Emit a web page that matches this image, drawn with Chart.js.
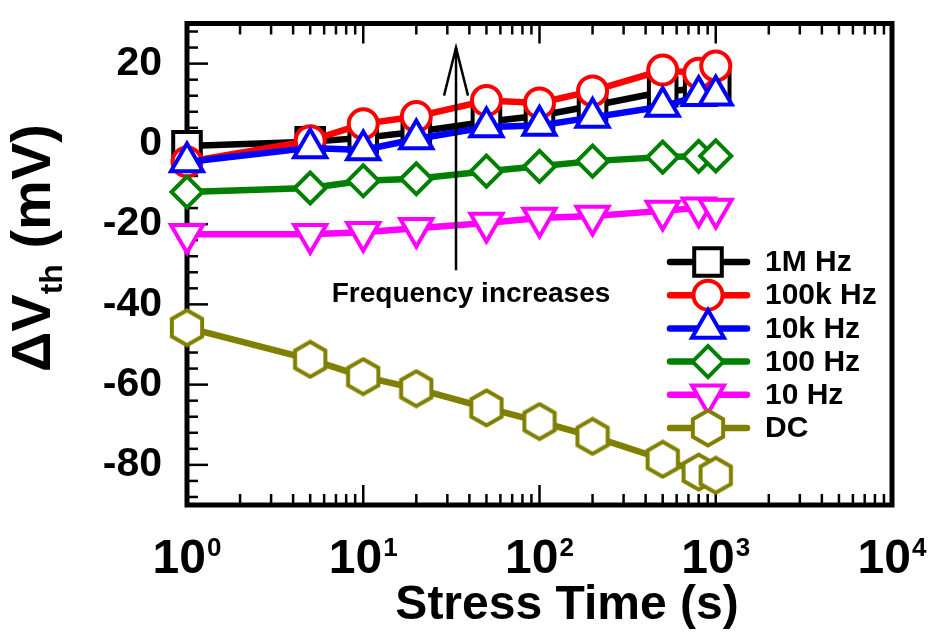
<!DOCTYPE html>
<html><head><meta charset="utf-8">
<script src="https://cdn.jsdelivr.net/npm/chart.js@4.4.1/dist/chart.umd.min.js"></script>
<style>html,body{margin:0;padding:0;background:#fff;}canvas{display:block;}</style>
</head><body>
<canvas id="c" width="930" height="634"></canvas>
<script>
// ---- data ----
const stressTimes = [1, 5, 10, 20, 50, 100, 200, 500, 800, 1000];
const seriesLabels = ['1M Hz', '100k Hz', '10k Hz', '100 Hz', '10 Hz', 'DC'];
const dv1MHz   = [-0.5, 0.5, 1.5, 3.0, 5.5, 7.0, 9.5, 13.0, 13.8, 14.5];
const dv100kHz = [-4.5, 0.8, 5.0, 6.8, 10.8, 10.2, 13.2, 18.4, 17.6, 19.4];
const dv10kHz  = [-4.5, -1.0, -1.5, 1.2, 4.2, 4.6, 6.6, 9.3, 12.0, 12.1];
const dv100Hz  = [-12.0, -11.0, -9.2, -8.7, -6.8, -5.6, -4.3, -3.3, -3.1, -3.0];
const dv10Hz   = [-22.5, -22.5, -22.0, -21.0, -19.7, -18.5, -18.0, -16.7, -15.9, -16.2];
const dvDC     = [-45.8, -53.7, -58.0, -61.0, -65.8, -69.2, -72.9, -78.6, -81.8, -82.6];
const yTickLabels = [20, 0, -20, -40, -60, -80];
const xTickExponents = [0, 1, 2, 3, 4];
const xAxisTitle = 'Stress Time (s)';
const annotationText = 'Frequency increases';
const arrowTime = 33.6, arrowFrom = -31.5, arrowTo = 24;

// ---- styling ----
const FONT = '"Liberation Sans", Arial, Helvetica, sans-serif';
const MARKER_BW = 4;
function hexagonImage(color) {
  const r = 17.5, lw = MARKER_BW;
  const c = document.createElement('canvas');
  const w = 36, h = 40;
  c.width = w; c.height = h;
  const g = c.getContext('2d');
  g.translate(w / 2, h / 2);
  g.beginPath();
  for (let k = 0; k < 6; k++) {
    const a = -Math.PI / 2 + k * Math.PI / 3;
    const px = r * Math.cos(a), py = r * Math.sin(a);
    if (k) g.lineTo(px, py); else g.moveTo(px, py);
  }
  g.closePath();
  g.fillStyle = '#fff'; g.fill();
  g.lineWidth = lw; g.strokeStyle = color; g.stroke();
  return c;
}
const styles = [
  { color: '#000000', pointStyle: 'rect', radius: 19.5, rotation: 0, order: 6 },
  { color: '#ff0000', pointStyle: 'circle', radius: 14.5, rotation: 0, order: 5 },
  { color: '#0000ff', pointStyle: 'triangle', radius: 18.5, rotation: 0, order: 4 },
  { color: '#008000', pointStyle: 'rectRot', radius: 15.5, rotation: 0, order: 3 },
  { color: '#ff00ff', pointStyle: 'triangle', radius: 18.5, rotation: 180, order: 2 },
  { color: '#808000', pointStyle: hexagonImage('#808000'), radius: 18, rotation: 0, order: 1 }
];
const seriesValues = [dv1MHz, dv100kHz, dv10kHz, dv100Hz, dv10Hz, dvDC];

const datasets = seriesValues.map((vals, i) => ({
  label: seriesLabels[i],
  data: vals.map((v, j) => ({ x: stressTimes[j], y: v })),
  borderColor: styles[i].color,
  backgroundColor: '#fff',
  borderWidth: 6.5,
  pointStyle: styles[i].pointStyle,
  pointRadius: styles[i].radius,
  pointRotation: styles[i].rotation,
  pointBorderColor: styles[i].color,
  pointBackgroundColor: '#fff',
  pointBorderWidth: MARKER_BW,
  tension: 0,
  clip: false,
  order: styles[i].order
}));

function drawMarker(ctx, st, x, y) {
  ctx.save();
  ctx.fillStyle = '#fff'; ctx.strokeStyle = st.color; ctx.lineWidth = MARKER_BW;
  if (Chart.helpers && Chart.helpers.drawPoint) {
    Chart.helpers.drawPoint(ctx, { pointStyle: st.pointStyle, radius: st.radius, rotation: st.rotation, borderWidth: MARKER_BW }, x, y);
  }
  ctx.restore();
}

const framePlugin = {
  id: 'frame',
  beforeDatasetsDraw(chart) {
    const { ctx, chartArea: a, scales: { x, y } } = chart;
    ctx.save();
    ctx.strokeStyle = '#000'; ctx.lineWidth = 2.5; ctx.lineCap = 'butt';
    const seg = (x1, y1, x2, y2) => { ctx.beginPath(); ctx.moveTo(x1, y1); ctx.lineTo(x2, y2); ctx.stroke(); };
    for (let e = xTickExponents[0]; e < xTickExponents[xTickExponents.length - 1]; e++) {
      for (let m = 1; m <= 9; m++) {
        const v = m * Math.pow(10, e);
        const px = x.getPixelForValue(v);
        const L = m === 1 ? 20 : 11;
        seg(px, a.bottom, px, a.bottom - L);
        seg(px, a.top, px, a.top + L);
      }
    }
    for (let v = -88; v <= 28; v += 4) {
      const py = y.getPixelForValue(v);
      const L = v % 20 === 0 ? 21 : 11;
      seg(a.left, py, a.left + L, py);
    }
    ctx.lineWidth = 5; ctx.lineJoin = 'miter';
    ctx.strokeRect(a.left, a.top, a.right - a.left, a.bottom - a.top);
    ctx.restore();
  },
  afterDraw(chart) {
    const { ctx, chartArea: a, scales: { x, y } } = chart;
    ctx.save();
    ctx.fillStyle = '#000';
    // x tick labels 10^n
    ctx.textBaseline = 'alphabetic'; ctx.textAlign = 'left';
    xTickExponents.forEach(e => {
      const px = x.getPixelForValue(Math.pow(10, e));
      ctx.font = 'bold 48px ' + FONT;
      const bw = ctx.measureText('10').width;
      ctx.font = 'bold 26px ' + FONT;
      const ew = ctx.measureText(String(e)).width;
      const sx = px - (bw + ew + 1) / 2;
      ctx.font = 'bold 48px ' + FONT;
      ctx.fillText('10', sx, a.bottom + 68);
      ctx.font = 'bold 26px ' + FONT;
      ctx.fillText(String(e), sx + bw + 1, a.bottom + 51);
    });
    // x axis title
    ctx.font = 'bold 48px ' + FONT; ctx.textAlign = 'center';
    ctx.fillText(xAxisTitle, 567, a.bottom + 114);
    ctx.textAlign = 'left';
    // y title with subscript
    ctx.save();
    ctx.translate(50, 248);
    ctx.rotate(-Math.PI / 2);
    const big = 'bold 56px ' + FONT, small = 'bold 32px ' + FONT;
    ctx.font = big; const w1 = ctx.measureText('\u0394V').width; const w3 = ctx.measureText(' (mV)').width;
    ctx.font = small; const w2 = ctx.measureText('th').width;
    let sx = -(w1 + w2 + w3) / 2;
    ctx.font = big; ctx.fillText('\u0394V', sx, 0); sx += w1;
    ctx.font = small; ctx.fillText('th', sx, 12); sx += w2;
    ctx.font = big; ctx.fillText(' (mV)', sx, 0);
    ctx.restore();
    // arrow + annotation
    const ax = x.getPixelForValue(arrowTime);
    const yb = y.getPixelForValue(arrowFrom), yt = y.getPixelForValue(arrowTo);
    ctx.strokeStyle = '#000'; ctx.lineWidth = 2.5;
    ctx.beginPath(); ctx.moveTo(ax, yb); ctx.lineTo(ax, yt); ctx.stroke();
    ctx.beginPath(); ctx.moveTo(ax - 12, yt + 48); ctx.lineTo(ax, yt); ctx.lineTo(ax + 12, yt + 48); ctx.stroke();
    ctx.font = 'bold 28px ' + FONT; ctx.textAlign = 'center'; ctx.textBaseline = 'alphabetic';
    ctx.fillText(annotationText, ax + 15, y.getPixelForValue(-39.5));
    // legend
    const lx0 = 670, lx1 = 747, mx = 708, tx = 765;
    chart.data.datasets.forEach((ds, i) => {
      const ly = 262 + i * 33.2;
      ctx.strokeStyle = styles[i].color; ctx.lineWidth = 6.5; ctx.lineCap = 'round';
      ctx.beginPath(); ctx.moveTo(lx0, ly); ctx.lineTo(lx1, ly); ctx.stroke();
      drawMarker(ctx, styles[i], mx, ly);
      ctx.fillStyle = '#000'; ctx.font = 'bold 30px ' + FONT; ctx.textAlign = 'left'; ctx.textBaseline = 'middle';
      ctx.fillText(ds.label, tx, ly + 1);
    });
    ctx.restore();
  }
};

new Chart(document.getElementById('c'), {
  type: 'line',
  data: { datasets },
  options: {
    responsive: false,
    animation: false,
    devicePixelRatio: 1,
    layout: { padding: { left: 0, top: 15, right: 38, bottom: 0 } },
    plugins: { legend: { display: false }, tooltip: { enabled: false } },
    scales: {
      x: {
        type: 'logarithmic', min: 1, max: 10000,
        grid: { display: false, drawTicks: false }, border: { display: false },
        ticks: { display: false },
        title: { display: false },
        afterFit(s) { s.height = 129; s.paddingLeft = 0; s.paddingRight = 0; }
      },
      y: {
        min: -90, max: 30,
        grid: { display: false, drawTicks: false }, border: { display: false },
        ticks: { stepSize: 10, autoSkip: false, padding: 25, color: '#000', font: { family: FONT, size: 41, weight: 'bold' },
          callback: v => yTickLabels.includes(v) ? String(v) : '' },
        afterFit(s) { s.width = 187; s.paddingTop = 0; s.paddingBottom = 0; }
      }
    }
  },
  plugins: [framePlugin]
});
</script>
</body></html>
